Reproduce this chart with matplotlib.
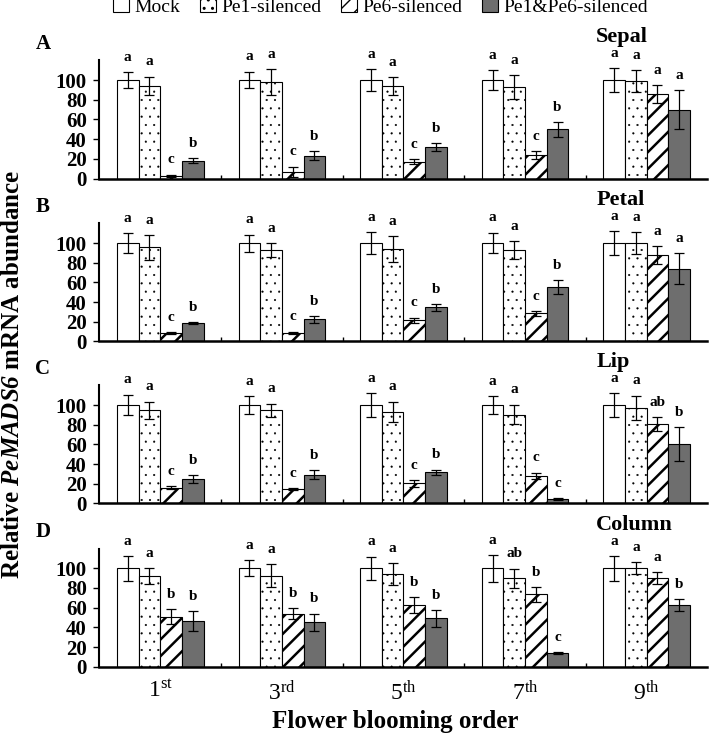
import numpy as np
import matplotlib.pyplot as plt

plt.rcParams['font.family'] = ['Liberation Serif', 'DejaVu Serif']
plt.rcParams['mathtext.fontset'] = 'custom'
plt.rcParams['mathtext.rm'] = 'Liberation Serif'
plt.rcParams['mathtext.it'] = 'Liberation Serif:italic'
plt.rcParams['mathtext.bf'] = 'Liberation Serif:bold'
plt.rcParams['mathtext.bfit'] = 'Liberation Serif:italic:bold'

# categories
orders = ['1st', '3rd', '5th', '7th', '9th']
order_labels = [r'$1^{\mathrm{st}}$', r'$3^{\mathrm{rd}}$', r'$5^{\mathrm{th}}$',
                r'$7^{\mathrm{th}}$', r'$9^{\mathrm{th}}$']
series = ['Mock', 'Pe1-silenced', 'Pe6-silenced', 'Pe1&Pe6-silenced']
organs = ['Sepal', 'Petal', 'Lip', 'Column']
tags = ['A', 'B', 'C', 'D']

# rows = series (Mock, Pe1, Pe6, Pe1&Pe6), cols = blooming order
sepal_mean = [[100, 100, 100, 100, 100],
              [94, 98, 94, 93, 99],
              [3, 7, 17, 24, 86],
              [18, 23, 32, 50, 70]]
sepal_err = [[8, 8.5, 11, 10, 12],
             [9.5, 13, 9, 12, 11],
             [1, 5, 2.7, 4, 9],
             [2.5, 4.5, 4.3, 7.5, 19.5]]
sepal_sig = [['a', 'a', 'a', 'a', 'a'],
             ['a', 'a', 'a', 'a', 'a'],
             ['c', 'c', 'c', 'c', 'a'],
             ['b', 'b', 'b', 'b', 'a']]

petal_mean = [[100, 100, 100, 100, 100],
              [95.6, 93.3, 94, 93, 100],
              [8.4, 9, 21.5, 28.5, 88],
              [18.5, 22.5, 34.6, 55.4, 74]]
petal_err = [[10, 8.7, 11, 10.5, 12],
             [12.5, 7, 13, 8.7, 11],
             [1, 1, 2.7, 2.5, 9],
             [1, 3.4, 3.4, 6.7, 15.5]]
petal_sig = [['a', 'a', 'a', 'a', 'a'],
             ['a', 'a', 'a', 'a', 'a'],
             ['c', 'c', 'c', 'c', 'a'],
             ['b', 'b', 'b', 'b', 'a']]

lip_mean = [[100, 100, 100, 100, 100],
            [94.5, 94.5, 93, 90.4, 97],
            [16, 14.7, 20.5, 28.3, 81],
            [25, 29, 31.7, 4.4, 60.4]]
lip_err = [[10.5, 9, 12, 9, 12],
           [9, 7, 10.5, 10, 12.5],
           [1.5, 1, 3.5, 3, 7],
           [4, 4.5, 2.7, 1, 17.5]]
lip_sig = [['a', 'a', 'a', 'a', 'a'],
           ['a', 'a', 'a', 'a', 'a'],
           ['c', 'c', 'c', 'c', 'ab'],
           ['b', 'b', 'b', 'c', 'b']]

column_mean = [[100, 100, 100, 100, 100],
               [92.5, 92.5, 94, 89.8, 100],
               [50.8, 54, 62.7, 73.5, 89.8],
               [46.4, 45, 49, 13.9, 62.7]]
column_err = [[12.5, 8, 12, 13.6, 12.7],
              [8, 12, 11, 10, 6],
              [7.7, 5.5, 7.7, 7.3, 6],
              [10, 9, 8.5, 1, 5.7]]
column_sig = [['a', 'a', 'a', 'a', 'a'],
              ['a', 'a', 'a', 'ab', 'a'],
              ['b', 'b', 'b', 'b', 'a'],
              ['b', 'b', 'b', 'c', 'b']]

means = [sepal_mean, petal_mean, lip_mean, column_mean]
errs = [sepal_err, petal_err, lip_err, column_err]
sigs = [sepal_sig, petal_sig, lip_sig, column_sig]

fills = ['white', 'white', 'white', '#6e6e6e']
hatches = [None, '..', '//', None]
hatch_lw = [1.0, 0.3, 1.8, 1.0]

fig = plt.figure(figsize=(7.09, 7.38), dpi=100)
bottoms = [0.7581, 0.5373, 0.3178, 0.0966]
x = np.arange(len(orders))
w = 0.178

axes = []
for p in range(4):
    ax = fig.add_axes([0.1403, bottoms[p], 0.8575, 0.16])
    axes.append(ax)
    for j in range(4):
        pos = x + (j - 1.5) * w
        with plt.rc_context({'hatch.linewidth': hatch_lw[j]}):
            bars = ax.bar(pos, means[p][j], w, color=fills[j], edgecolor='black',
                          linewidth=0.8, hatch=hatches[j], label=series[j])
        for b in bars:
            if hasattr(b, 'set_hatch_linewidth'):
                b.set_hatch_linewidth(hatch_lw[j])
        ax.errorbar(pos, means[p][j], yerr=errs[p][j], fmt='none',
                    ecolor='black', elinewidth=0.9, capsize=3.4, capthick=0.9)
        for i in range(len(orders)):
            top = means[p][j][i] + errs[p][j][i]
            ax.text(pos[i], top + 15, sigs[p][j][i], ha='center', va='center',
                    fontsize=11, fontweight='bold', clip_on=False)

    ax.set_xlim(-0.5, 4.5)
    ax.set_ylim(0, 120)
    ax.set_yticks([0, 20, 40, 60, 80, 100])
    ax.tick_params(axis='y', labelsize=15, length=4, width=1, pad=5)
    for lab in ax.get_yticklabels():
        lab.set_fontweight('bold')
    ax.set_xticks(x)
    ax.set_xticks(x[:-1] + 0.5, minor=True)
    ax.tick_params(axis='x', which='major', length=0, pad=10, labelsize=17)
    ax.tick_params(axis='x', which='minor', length=3, width=1, direction='in')
    if p == 3:
        ax.set_xticklabels(order_labels)
    else:
        ax.set_xticklabels([])
    ax.spines['top'].set_visible(False)
    ax.spines['right'].set_visible(False)
    ax.spines['left'].set_linewidth(1.5)
    ax.spines['bottom'].set_linewidth(1.8)
    ax.patch.set_visible(False)

    ax.text(-0.093, 1.14, tags[p], transform=ax.transAxes, ha='center',
            va='center', fontsize=15, fontweight='bold')
    ax.text(0.817, 1.2, organs[p], transform=ax.transAxes, ha='left',
            va='center', fontsize=16, fontweight='bold')

handles, labels = axes[0].get_legend_handles_labels()
fig.legend(handles, labels, loc='upper center', bbox_to_anchor=(0.537, 1.006),
           ncol=4, frameon=False, fontsize=14, handlelength=0.8,
           handleheight=0.8, handletextpad=0.3, columnspacing=1.0,
           borderpad=0.1, borderaxespad=0)

fig.text(0.017, 0.493, r'Relative $\mathbfit{PeMADS6}$ mRNA abundance',
         rotation=90, ha='center', va='center', fontsize=18, fontweight='bold')
fig.text(0.557, 0.022, 'Flower blooming order', ha='center', va='center',
         fontsize=18, fontweight='bold')

plt.savefig('out.png', dpi=100)
